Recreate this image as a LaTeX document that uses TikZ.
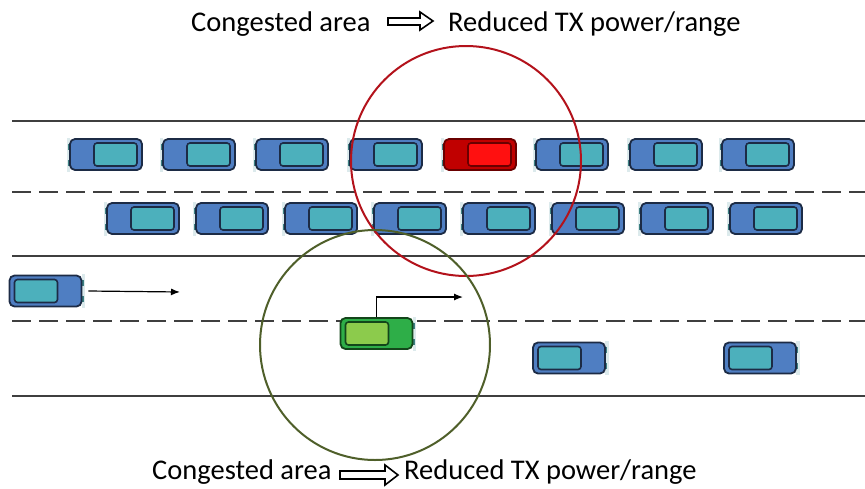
\documentclass[tikz,border=0pt]{standalone}
\usepackage{fontspec}
\setmainfont{Carlito}
\usetikzlibrary{arrows.meta}

% colour schemes for the vehicles
\definecolor{bluebody}{HTML}{4F7EC2}
\definecolor{bluecabin}{HTML}{4CB0BC}
\definecolor{blueline}{HTML}{1C2B45}
\definecolor{redbody}{HTML}{C00000}
\definecolor{redcabin}{HTML}{FF1010}
\definecolor{redline}{HTML}{6A0000}
\definecolor{greenbody}{HTML}{2EAE48}
\definecolor{greencabin}{HTML}{8CCB4C}
\definecolor{greenline}{HTML}{13461A}
\definecolor{lampstripc}{HTML}{DCEAEC}
\definecolor{lampc}{HTML}{3C7F80}
\definecolor{roadline}{HTML}{3F3F3F}
\definecolor{redring}{HTML}{B3121B}
\definecolor{greenring}{HTML}{4F5F2A}

\tikzset{
  body/.style={rectangle, rounded corners=5pt, minimum width=72pt, minimum height=31pt,
    inner sep=0pt, line width=1.8pt},
  cabin/.style={rectangle, rounded corners=3pt, minimum width=43pt, minimum height=23pt,
    inner sep=0pt, line width=1.6pt},
  lampstrip/.style={fill=lampstripc},
  lamp/.style={fill=lampc},
  solidlane/.style={draw=roadline, line width=2pt},
  dashlane/.style={draw=roadline, line width=2pt, dash pattern=on 19pt off 8pt},
  move/.style={draw=black, line width=1.2pt, -{Latex[length=9pt,width=7pt]}},
  ring/.style={line width=2pt},
  caption/.style={anchor=base west, inner sep=0pt, font=\fontsize{28.5}{32}\selectfont},
  hollow/.style={draw=black, line width=1.6pt, fill=white, line join=miter}
}

% #1 name, #2 centre, #3 heading (1 = right, -1 = left), #4 colour scheme
\newcommand{\vehicle}[4]{%
  \begin{scope}[shift={#2}, xscale=#3]
    \fill[lampstrip] (36,-17) rectangle (39.5,17);
    \fill[lamp] (35,-11) rectangle (38,-5);
    \fill[lamp] (35,5) rectangle (38,11);
    \node[body, fill=#4body, draw=#4line] (#1) at (0,0) {};
    \node[cabin, fill=#4cabin, draw=#4line] (#1c) at (-9.5,0) {};
  \end{scope}}

\begin{document}
\begin{tikzpicture}[x=1pt, y=-1pt]
  \useasboundingbox (0,0) rectangle (865,488);

  % road markings
  \draw[solidlane] (12,121) -- (865,121);
  \draw[dashlane]  (12,192) -- (865,192);
  \draw[solidlane] (12,256) -- (865,256);
  \draw[dashlane]  (12,321) -- (865,321);
  \draw[solidlane] (12,396) -- (865,396);

  % upper lane, heading left
  \foreach \i/\x in {1/106,2/199,3/292,4/386,6/572,7/666,8/758}
    {\vehicle{a\i}{(\x,154.5)}{-1}{blue}}
  \vehicle{a5}{(480,154.5)}{-1}{red}

  % second lane, heading left
  \foreach \i/\x in {1/143,2/232,3/321,4/410,5/499,6/588,7/677,8/766}
    {\vehicle{b\i}{(\x,218.5)}{-1}{blue}}

  % lower lanes, heading right
  \vehicle{c1}{(45.5,291)}{1}{blue}
  \vehicle{g}{(376.5,333.5)}{1}{green}
  \vehicle{d1}{(569,358)}{1}{blue}
  \vehicle{d2}{(760,358)}{1}{blue}

  % movement arrows
  \coordinate (c1go) at (180,292);
  \coordinate (ggo) at (463,297);
  \draw[move] ([xshift=6pt]c1.east) -- (c1go);
  \draw[move] (g.north) |- (ggo);

  % communication ranges
  \draw[ring, draw=redring] (466,161) circle[radius=115];
  \draw[ring, draw=greenring] (375,345) circle[radius=115];

  % captions
  \node[caption] (t1) at (191,31.5) {Congested area};
  \draw[hollow] (388,18) -- (420,18) -- (420,12) -- (433,21) -- (420,30) -- (420,25) -- (388,25) -- cycle;
  \node[caption] (t2) at (448,31.5) {Reduced TX power/range};

  \node[caption] (b1) at (152,479) {Congested area};
  \draw[hollow] (340,471) -- (385,471) -- (385,465) -- (398,475) -- (385,485) -- (385,479) -- (340,479) -- cycle;
  \node[caption] (b2) at (404,479) {Reduced TX power/range};
\end{tikzpicture}
\end{document}
